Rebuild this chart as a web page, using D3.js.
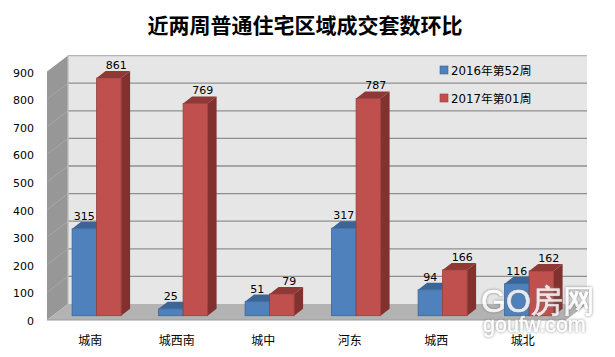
<!DOCTYPE html>
<html lang="en">
<head>
    <meta charset="UTF-8">
    <script src="https://d3js.org/d3.v7.min.js"></script>
    <title>近两周普通住宅区域成交套数环比</title>
    <style>
        html, body { margin: 0; padding: 0; background: #fff; }
        svg { display: block; }
        text { font-family: "DejaVu Sans", "Noto Sans CJK SC", sans-serif; fill: #000; }
    </style>
</head>
<body>
    <script>
        var categories = ["城南", "城西南", "城中", "河东", "城西", "城北"];
        var seriesNames = ["2016年第52周", "2017年第01周"];
        var values2016 = [315, 25, 51, 317, 94, 116];
        var values2017 = [861, 769, 79, 787, 166, 162];
        var yTicks = [0, 100, 200, 300, 400, 500, 600, 700, 800, 900];

        var seriesValues = [values2016, values2017];
        var front = ["#4f81bd", "#c0504d"];
        var side = ["#39608f", "#82312f"];
        var topFace = ["#3b6596", "#8f3836"];
        var edge = ["#3a6595", "#94403d"];

        var width = 615, height = 357;
        // floor depth of the 3d box, and the bars' own depth
        var wallDx = 21, wallDy = 16;
        var barDx = 9, barDy = 7;
        var barShiftX = 5.6, barShiftY = 4.3;

        var x = d3.scaleBand().domain(categories).range([47, 566]);
        var x1 = d3.scaleBand().domain([0, 1]).range([19.5, 68.5]);
        var y = d3.scaleLinear().domain([0, 900]).range([320, 71.6]);

        var svg = d3.select("body").append("svg").attr("width", width).attr("height", height);

        svg.append("text").attr("x", 305).attr("y", 33).attr("text-anchor", "middle")
            .style("font-family", '"Noto Sans CJK SC", sans-serif')
            .style("font-weight", "bold").style("font-size", "21px")
            .text("近两周普通住宅区域成交套数环比");

        var x0 = x.range()[0], x9 = x.range()[1];
        var poly = function(p) { return p.map(function(d) { return d.join(","); }).join(" "); };

        // walls and floor
        svg.append("polygon").attr("fill", "#e6e6e6")
            .attr("points", poly([[x0 + wallDx, y(900) - wallDy], [x9 + wallDx, y(900) - wallDy], [x9 + wallDx, y(0) - wallDy], [x0 + wallDx, y(0) - wallDy]]));
        svg.append("polygon").attr("fill", "#979797")
            .attr("points", poly([[x0, y(900)], [x0 + wallDx, y(900) - wallDy], [x0 + wallDx, y(0) - wallDy], [x0, y(0)]]));
        svg.append("polygon").attr("fill", "#b3b3b3")
            .attr("points", poly([[x0, y(0)], [x0 + wallDx, y(0) - wallDy], [x9 + wallDx, y(0) - wallDy], [x9, y(0)]]));

        svg.selectAll("line.grid").data(yTicks.slice(1)).join("line").attr("class", "grid")
            .attr("x1", x0 + wallDx).attr("x2", x9 + wallDx)
            .attr("y1", function(d) { return y(d) - wallDy; }).attr("y2", function(d) { return y(d) - wallDy; })
            .attr("stroke", function(d) { return d == 900 ? "#b4b4b4" : "#8f8f8f"; }).attr("stroke-width", 1.3);
        svg.selectAll("line.gridSide").data(yTicks.slice(1, -1)).join("line").attr("class", "gridSide")
            .attr("x1", x0).attr("x2", x0 + wallDx)
            .attr("y1", function(d) { return y(d); }).attr("y2", function(d) { return y(d) - wallDy; })
            .attr("stroke", "#a8a8a8").attr("stroke-width", 1);
        svg.append("line").attr("x1", x0 + wallDx).attr("x2", x0 + wallDx)
            .attr("y1", y(900) - wallDy).attr("y2", y(0) - wallDy)
            .attr("stroke", "#bdbdbd").attr("stroke-width", 1.3);
        svg.append("line").attr("x1", x0).attr("x2", x9).attr("y1", y(0)).attr("y2", y(0))
            .attr("stroke", "#9a9a9a").attr("stroke-width", 1);

        // axes
        var yAxis = d3.axisLeft(y).tickValues(yTicks).tickSize(0).tickPadding(13);
        var gy = svg.append("g").attr("transform", "translate(" + x0 + ",1)").call(yAxis);
        gy.select(".domain").remove();
        gy.selectAll("text").style("font-size", "11px");

        var xAxis = d3.axisBottom(x).tickSize(0).tickPadding(0);
        var gx = svg.append("g").attr("transform", "translate(0,336)").call(xAxis);
        gx.select(".domain").remove();
        gx.selectAll("text").style("font-size", "12px")
            .style("font-family", '"Noto Sans CJK SC", sans-serif');

        // bars
        categories.forEach(function(cat, c) {
            seriesValues.forEach(function(vals, s) {
                var v = vals[c];
                var bx = x(cat) + x1(s) + barShiftX, bw = x1.bandwidth();
                var by0 = y(0) - barShiftY, by1 = y(v) - barShiftY;
                var g = svg.append("g");
                g.append("polygon").attr("fill", side[s])
                    .attr("points", poly([[bx + bw, by1], [bx + bw + barDx, by1 - barDy], [bx + bw + barDx, by0 - barDy], [bx + bw, by0]]));
                g.append("polygon").attr("fill", topFace[s])
                    .attr("points", poly([[bx, by1], [bx + barDx, by1 - barDy], [bx + bw + barDx, by1 - barDy], [bx + bw, by1]]));
                g.append("rect").attr("x", bx).attr("y", by1).attr("width", bw).attr("height", by0 - by1)
                    .attr("fill", front[s]).attr("stroke", edge[s]).attr("stroke-width", 0.8);
            });
        });

        // value labels go on top so the red bars never hide them
        categories.forEach(function(cat, c) {
            seriesValues.forEach(function(vals, s) {
                svg.append("text")
                    .attr("x", x(cat) + x1(s) + barShiftX + x1.bandwidth() / 2 + (s == 1 ? 7.5 : 0))
                    .attr("y", y(vals[c]) - barShiftY - 9)
                    .attr("text-anchor", "middle").style("font-size", "11px")
                    .text(vals[c]);
            });
        });

        // legend
        var legend = d3.scaleOrdinal().domain(seriesNames).range([66, 94]);
        seriesNames.forEach(function(name, s) {
            svg.append("rect").attr("x", 440).attr("y", legend(name)).attr("width", 8).attr("height", 8)
                .attr("fill", front[s]).attr("stroke", edge[s]).attr("stroke-width", 0.6);
            svg.append("text").attr("x", 451).attr("y", legend(name) + 8.5)
                .style("font-size", "11.8px").text(name);
        });

        // watermark
        var mark = svg.append("g").attr("opacity", 0.85).style("filter", "drop-shadow(0 0 1.5px #777)");
        mark.append("text").attr("x", 481).attr("y", 312)
            .style("font-family", '"Liberation Sans", sans-serif').style("font-size", "32px")
            .style("fill", "#fff").attr("stroke", "#fff").attr("stroke-width", 0.6).text("GO房网");
        mark.append("text").attr("x", 483).attr("y", 332)
            .style("font-family", '"Liberation Sans", sans-serif').style("font-size", "21.5px")
            .style("fill", "#fff").attr("stroke", "#fff").attr("stroke-width", 0.4).text("goufw.com");
    </script>
</body>
</html>
